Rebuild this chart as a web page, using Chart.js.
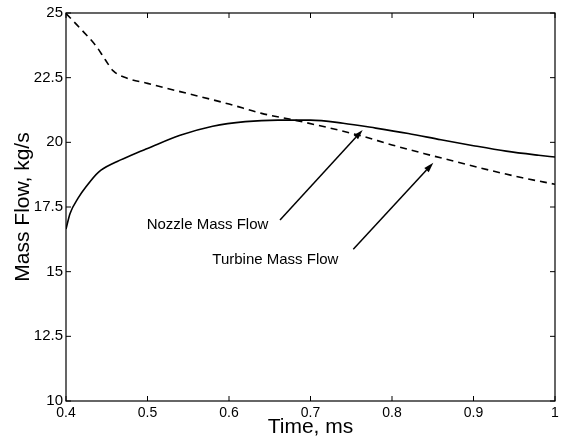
<!DOCTYPE html>
<html lang="en">
<head>
    <meta charset="UTF-8">
    <title>Mass Flow vs Time</title>
    <script src="https://cdn.jsdelivr.net/npm/chart.js"></script>
    <style>
        body { margin: 0; background: #fff; }
        #wrap { width: 564px; height: 440px; position: relative; }
    </style>
</head>
<body>
    <div id="wrap"><canvas id="flowChart"></canvas></div>

    <script>
        // nozzle mass flow (solid line)
        const nozzleTime = [0.4, 0.405, 0.415, 0.425, 0.44, 0.46, 0.48, 0.5, 0.54, 0.58, 0.62, 0.66, 0.7, 0.74, 0.78, 0.82, 0.86, 0.9, 0.94, 0.98, 1.0];
        const nozzleFlow = [16.65, 17.25, 17.85, 18.3, 18.85, 19.22, 19.5, 19.76, 20.27, 20.62, 20.8, 20.86, 20.86, 20.74, 20.55, 20.34, 20.1, 19.87, 19.66, 19.5, 19.43];

        // turbine mass flow (dashed line)
        const turbineTime = [0.4, 0.417, 0.437, 0.448, 0.458, 0.475, 0.5, 0.54, 0.6, 0.64, 0.68, 0.72, 0.76, 0.8, 0.84, 0.88, 0.92, 0.96, 1.0];
        const turbineFlow = [24.98, 24.42, 23.72, 23.2, 22.76, 22.48, 22.28, 21.96, 21.48, 21.12, 20.86, 20.58, 20.27, 19.9, 19.56, 19.24, 18.92, 18.63, 18.38];

        const xTickValues = [0.4, 0.5, 0.6, 0.7, 0.8, 0.9, 1.0];
        const xTickLabels = ['0.4', '0.5', '0.6', '0.7', '0.8', '0.9', '1'];
        const yTickValues = [10, 12.5, 15, 17.5, 20, 22.5, 25];
        const yTickLabels = ['10', '12.5', '15', '17.5', '20', '22.5', '25'];

        // callout labels with arrows: text anchor, arrow tail, arrow head (data units)
        const calloutText = ['Nozzle Mass Flow', 'Turbine Mass Flow'];
        const calloutTextAt = [[0.499, 16.8], [0.5795, 15.45]];
        const arrowTail = [[0.6626, 17.0], [0.7525, 15.87]];
        const arrowHead = [[0.764, 20.48], [0.8507, 19.21]];

        const FONT = "'Liberation Sans', Arial, Helvetica, sans-serif";

        const toPoints = (xs, ys) => xs.map((x, i) => ({ x: x, y: ys[i] }));

        // box around the plot, inward ticks on every side, callouts
        const matlabAxes = {
            id: 'matlabAxes',
            afterDatasetsDraw(chart) {
                const { ctx, chartArea: a, scales: { x, y } } = chart;
                const tl = 5;
                ctx.save();
                ctx.strokeStyle = '#000';
                ctx.lineWidth = 1.2;
                ctx.strokeRect(a.left, a.top, a.right - a.left, a.bottom - a.top);

                ctx.lineWidth = 1;
                ctx.beginPath();
                xTickValues.forEach(v => {
                    const px = x.getPixelForValue(v);
                    ctx.moveTo(px, a.bottom); ctx.lineTo(px, a.bottom - tl);
                    ctx.moveTo(px, a.top); ctx.lineTo(px, a.top + tl);
                });
                yTickValues.forEach(v => {
                    const py = y.getPixelForValue(v);
                    ctx.moveTo(a.left, py); ctx.lineTo(a.left + tl, py);
                    ctx.moveTo(a.right, py); ctx.lineTo(a.right - tl, py);
                });
                ctx.stroke();

                ctx.fillStyle = '#000';
                ctx.font = '15px ' + FONT;
                ctx.textAlign = 'left';
                ctx.textBaseline = 'middle';
                calloutText.forEach((t, i) => {
                    ctx.fillText(t, x.getPixelForValue(calloutTextAt[i][0]), y.getPixelForValue(calloutTextAt[i][1]));
                });

                ctx.lineWidth = 1.5;
                arrowTail.forEach((tail, i) => {
                    const x0 = x.getPixelForValue(tail[0]), y0 = y.getPixelForValue(tail[1]);
                    const x1 = x.getPixelForValue(arrowHead[i][0]), y1 = y.getPixelForValue(arrowHead[i][1]);
                    const ang = Math.atan2(y1 - y0, x1 - x0);
                    const len = 10, half = 3;
                    const bx = x1 - len * Math.cos(ang), by = y1 - len * Math.sin(ang);
                    ctx.beginPath();
                    ctx.moveTo(x0, y0);
                    ctx.lineTo(bx, by);
                    ctx.stroke();
                    ctx.beginPath();
                    ctx.moveTo(x1, y1);
                    ctx.lineTo(bx + half * Math.sin(ang), by - half * Math.cos(ang));
                    ctx.lineTo(bx - half * Math.sin(ang), by + half * Math.cos(ang));
                    ctx.closePath();
                    ctx.fill();
                });
                ctx.restore();
            }
        };

        const ctx = document.getElementById('flowChart').getContext('2d');
        const chart = new Chart(ctx, {
            type: 'line',
            data: {
                datasets: [
                    {
                        label: 'Nozzle Mass Flow',
                        data: toPoints(nozzleTime, nozzleFlow),
                        borderColor: '#000',
                        borderWidth: 1.6,
                        pointRadius: 0,
                        cubicInterpolationMode: 'monotone',
                        fill: false
                    },
                    {
                        label: 'Turbine Mass Flow',
                        data: toPoints(turbineTime, turbineFlow),
                        borderColor: '#000',
                        borderWidth: 1.6,
                        borderDash: [7, 5],
                        pointRadius: 0,
                        cubicInterpolationMode: 'monotone',
                        fill: false
                    }
                ]
            },
            options: {
                responsive: true,
                maintainAspectRatio: false,
                animation: false,
                layout: { padding: { top: 13, right: 9, left: 0, bottom: 0 } },
                plugins: {
                    legend: { display: false },
                    tooltip: { enabled: false }
                },
                scales: {
                    x: {
                        type: 'linear',
                        min: 0.4,
                        max: 1.0,
                        grid: { display: false, drawTicks: false },
                        border: { display: false },
                        afterBuildTicks: s => { s.ticks = xTickValues.map(v => ({ value: v })); },
                        afterFit: s => { s.height = 39; },
                        ticks: {
                            color: '#000',
                            padding: 4,
                            maxRotation: 0,
                            font: { family: FONT, size: 14 },
                            callback: (v, i) => xTickLabels[i]
                        },
                        title: {
                            display: true,
                            text: 'Time, ms',
                            color: '#000',
                            font: { family: FONT, size: 21 },
                            padding: { top: 0, bottom: 0 }
                        }
                    },
                    y: {
                        type: 'linear',
                        min: 10,
                        max: 25,
                        grid: { display: false, drawTicks: false },
                        border: { display: false },
                        afterBuildTicks: s => { s.ticks = yTickValues.map(v => ({ value: v })); },
                        afterFit: s => { s.width = 66; },
                        ticks: {
                            color: '#000',
                            padding: 3,
                            font: { family: FONT, size: 15 },
                            callback: (v, i) => yTickLabels[i]
                        },
                        title: {
                            display: true,
                            text: 'Mass Flow, kg/s',
                            color: '#000',
                            font: { family: FONT, size: 21 },
                            padding: { top: 11, bottom: 0 }
                        }
                    }
                }
            },
            plugins: [matlabAxes]
        });
    </script>
</body>
</html>
